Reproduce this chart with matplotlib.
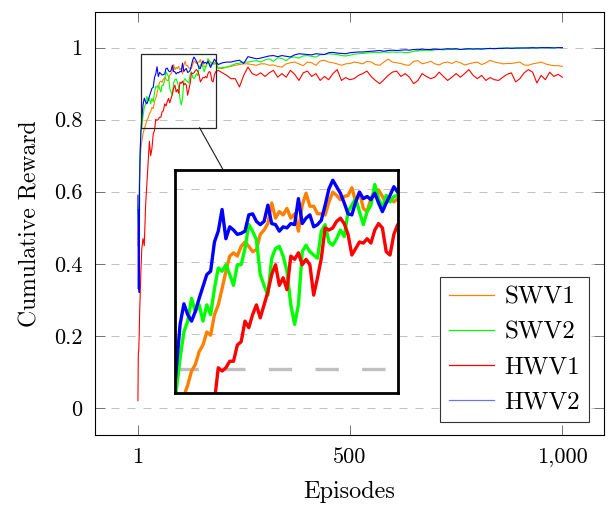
import matplotlib
matplotlib.use('Agg')
import matplotlib.pyplot as plt
from matplotlib.patches import Rectangle, ConnectionPatch
from matplotlib.lines import Line2D

plt.rcParams['font.family'] = 'serif'
plt.rcParams['font.serif'] = ['cmr10']
plt.rcParams['mathtext.fontset'] = 'cm'
plt.rcParams['axes.formatter.use_mathtext'] = True

# episodes: dense at the start, every 10 afterwards
episodes = [1, 2, 3, 4, 5, 6, 8] + list(range(10, 185, 3)) + list(range(190, 1001, 10))

swv1 = [0.45, 0.50, 0.56, 0.60, 0.64, 0.68, 0.72,
        0.740, 0.760, 0.775, 0.785, 0.798, 0.804, 0.816, 0.822, 0.834, 0.831,
        0.850, 0.859, 0.874, 0.890, 0.904, 0.907, 0.904, 0.913, 0.917, 0.913,
        0.908, 0.910, 0.924, 0.928, 0.934, 0.953, 0.939, 0.945, 0.942, 0.948,
        0.939, 0.943, 0.927, 0.951, 0.962, 0.950, 0.950, 0.943, 0.943, 0.942,
        0.954, 0.963, 0.960, 0.956, 0.959, 0.960, 0.967, 0.954, 0.963, 0.948,
        0.945, 0.957, 0.965, 0.965, 0.959, 0.953, 0.957, 0.954, 0.957,
        0.944, 0.942, 0.946, 0.948, 0.951, 0.953, 0.955, 0.955, 0.953, 0.951,
        0.955, 0.955, 0.951, 0.952, 0.948, 0.946, 0.955, 0.958, 0.960, 0.955,
        0.950, 0.960, 0.958, 0.951, 0.963, 0.965, 0.960, 0.958, 0.955, 0.951,
        0.955, 0.956, 0.960, 0.958, 0.955, 0.962, 0.960, 0.953, 0.951, 0.960,
        0.968, 0.960, 0.958, 0.956, 0.952, 0.951, 0.962, 0.964, 0.955, 0.958,
        0.962, 0.955, 0.952, 0.958, 0.960, 0.956, 0.962, 0.958, 0.952, 0.955,
        0.958, 0.960, 0.953, 0.958, 0.965, 0.960, 0.958, 0.955, 0.956, 0.956,
        0.958, 0.960, 0.952, 0.951, 0.955, 0.957, 0.960, 0.955, 0.952, 0.950,
        0.950, 0.948]

swv2 = [0.56, 0.52, 0.49, 0.60, 0.66, 0.70, 0.76,
        0.780, 0.810, 0.834, 0.844, 0.865, 0.853, 0.859, 0.844, 0.859, 0.850,
        0.874, 0.893, 0.890, 0.896, 0.887, 0.877, 0.896, 0.896, 0.911, 0.933,
        0.927, 0.919, 0.887, 0.877, 0.868, 0.902, 0.911, 0.913, 0.904, 0.890,
        0.859, 0.841, 0.859, 0.908, 0.914, 0.908, 0.905, 0.902, 0.927, 0.933,
        0.917, 0.914, 0.920, 0.928, 0.922, 0.945, 0.951, 0.957, 0.945, 0.933,
        0.945, 0.951, 0.970, 0.957, 0.948, 0.960, 0.954, 0.959, 0.960,
        0.942, 0.945, 0.946, 0.950, 0.955, 0.957, 0.960, 0.960, 0.962, 0.964,
        0.960, 0.966, 0.969, 0.962, 0.972, 0.970, 0.964, 0.973, 0.974, 0.971,
        0.977, 0.978, 0.976, 0.974, 0.980, 0.981, 0.983, 0.982, 0.981, 0.978,
        0.977, 0.979, 0.982, 0.983, 0.984, 0.985, 0.986, 0.987, 0.986, 0.988,
        0.987, 0.988, 0.987, 0.988, 0.986, 0.987, 0.990, 0.991, 0.992, 0.993,
        0.992, 0.994, 0.995, 0.994, 0.995, 0.996, 0.996, 0.995, 0.996, 0.996,
        0.997, 0.996, 0.997, 0.998, 0.997, 0.998, 0.998, 0.999, 0.998, 0.999,
        0.998, 0.999, 0.999, 1.000, 0.999, 1.000, 0.999, 1.000, 1.000, 1.000,
        1.000, 1.000]

hwv1 = [0.02, 0.15, 0.16, 0.20, 0.26, 0.30, 0.38,
        0.44, 0.47, 0.45, 0.56, 0.62, 0.68, 0.74, 0.70, 0.72, 0.76,
        0.770, 0.801, 0.798, 0.801, 0.807, 0.807, 0.822, 0.825, 0.844, 0.838,
        0.850, 0.859, 0.847, 0.859, 0.871, 0.887, 0.896, 0.877, 0.884, 0.873,
        0.904, 0.901, 0.907, 0.896, 0.901, 0.896, 0.868, 0.884, 0.902, 0.930,
        0.928, 0.930, 0.936, 0.939, 0.934, 0.924, 0.905, 0.911, 0.917, 0.916,
        0.920, 0.916, 0.928, 0.934, 0.930, 0.908, 0.905, 0.924, 0.933,
        0.937, 0.930, 0.923, 0.914, 0.914, 0.891, 0.923, 0.946, 0.928, 0.923,
        0.930, 0.920, 0.930, 0.937, 0.918, 0.928, 0.918, 0.937, 0.926, 0.909,
        0.930, 0.935, 0.920, 0.928, 0.909, 0.920, 0.911, 0.928, 0.939, 0.909,
        0.917, 0.911, 0.914, 0.923, 0.928, 0.935, 0.920, 0.909, 0.900, 0.911,
        0.923, 0.932, 0.935, 0.920, 0.928, 0.918, 0.900, 0.909, 0.928, 0.920,
        0.914, 0.918, 0.932, 0.920, 0.909, 0.918, 0.928, 0.918, 0.928, 0.939,
        0.923, 0.914, 0.923, 0.909, 0.917, 0.911, 0.909, 0.918, 0.926, 0.930,
        0.905, 0.914, 0.930, 0.939, 0.932, 0.902, 0.923, 0.911, 0.932, 0.920,
        0.926, 0.918]

hwv2 = [0.59, 0.33, 0.55, 0.32, 0.62, 0.70, 0.77,
        0.800, 0.841, 0.860, 0.850, 0.844, 0.853, 0.865, 0.876, 0.887, 0.890,
        0.917, 0.927, 0.947, 0.920, 0.931, 0.928, 0.924, 0.925, 0.927, 0.942,
        0.943, 0.936, 0.933, 0.936, 0.951, 0.934, 0.933, 0.927, 0.931, 0.930,
        0.934, 0.933, 0.957, 0.934, 0.939, 0.942, 0.931, 0.933, 0.937, 0.951,
        0.966, 0.974, 0.968, 0.962, 0.953, 0.943, 0.942, 0.954, 0.963, 0.957,
        0.959, 0.956, 0.962, 0.953, 0.945, 0.953, 0.960, 0.968, 0.963,
        0.953, 0.958, 0.960, 0.960, 0.963, 0.965, 0.956, 0.975, 0.972, 0.969,
        0.971, 0.974, 0.977, 0.978, 0.975, 0.978, 0.976, 0.974, 0.980, 0.983,
        0.982, 0.981, 0.980, 0.983, 0.982, 0.981, 0.986, 0.987, 0.985, 0.984,
        0.983, 0.986, 0.987, 0.988, 0.988, 0.989, 0.990, 0.991, 0.992, 0.990,
        0.992, 0.993, 0.992, 0.993, 0.994, 0.993, 0.995, 0.994, 0.996, 0.995,
        0.995, 0.996, 0.995, 0.996, 0.997, 0.996, 0.997, 0.995, 0.996, 0.997,
        0.996, 0.997, 0.996, 0.997, 0.998, 0.997, 0.998, 0.998, 0.999, 0.998,
        0.999, 0.999, 0.999, 0.999, 1.000, 0.999, 1.000, 1.000, 1.000, 0.999,
        1.000, 1.000]

names = ['SWV1', 'SWV2', 'HWV1', 'HWV2']
colors = ['#ff8000', '#00ff00', '#ff0000', '#0000ff']
series = [swv1, swv2, hwv1, hwv2]

fig = plt.figure(figsize=(6.11, 5.08), dpi=100)
ax = fig.add_axes([95 / 611, 73 / 508, 509 / 611, 423 / 508])

for y, c in zip(series, colors):
    ax.plot(episodes, y, color=c, lw=0.8)

ax.set_xlim(-100, 1098)
ax.set_ylim(-0.0755, 1.099)
ax.set_xticks([1, 500, 1000])
ax.set_xticklabels(['1', '500', '1,000'])
ax.set_yticks([0, 0.2, 0.4, 0.6, 0.8, 1.0])
ax.set_yticklabels(['0', '0.2', '0.4', '0.6', '0.8', '1'])
ax.tick_params(direction='in', length=7, width=0.7, color='0.45', labelsize=16,
               top=True, right=True, pad=9)
ax.yaxis.grid(True, color='0.72', lw=0.6, dashes=(9.6, 9.6))
ax.set_axisbelow(True)
for s in ax.spines.values():
    s.set_linewidth(0.8)
ax.set_xlabel('Episodes', fontsize=17.5, labelpad=10)
ax.set_ylabel('Cumulative Reward', fontsize=17, labelpad=9)

handles = [Line2D([], [], color=c, lw=0.9) for c in colors]
handles[3].set_color('#7070ff')
leg = ax.legend(handles, names, loc='lower right', bbox_to_anchor=(0.97, 0.03),
                borderaxespad=0, fontsize=18, fancybox=False, edgecolor='0.2',
                framealpha=1, handlelength=1.8, handletextpad=0.4,
                labelspacing=0.5, borderpad=0.35)
leg.get_frame().set_linewidth(0.8)

# zoom box
x0, x1 = 9.0, 184.5
y0, y1 = 0.778, 0.9834
ax.add_patch(Rectangle((x0, y0), x1 - x0, y1 - y0, fill=False, ec='0.15', lw=0.9, zorder=5))

ins = fig.add_axes([175 / 611, (508 - 392.7) / 508, 223.3 / 611, 222.7 / 508])
for y, c in zip(series, colors):
    ins.plot(episodes, y, color=c, lw=2.4)
ins.set_xlim(x0, x1)
ins.set_ylim(y0, y1)
ins.set_xticks([])
ins.set_yticks([])
for g in [0.832, 0.899, 0.966]:
    ins.axhline(g, color='0.72', lw=0.6, dashes=(9.6, 9.6), zorder=0)
ins.axhline(0.8, color='0.75', lw=2.4, dashes=(7, 7), zorder=0)
for s in ins.spines.values():
    s.set_linewidth(2.0)

con = ConnectionPatch(xyA=(146, y0), coordsA=ax.transData,
                      xyB=(0.216, 1.0), coordsB=ins.transAxes,
                      color='0.1', lw=0.8)
fig.add_artist(con)

fig.savefig('out.png', dpi=100)
